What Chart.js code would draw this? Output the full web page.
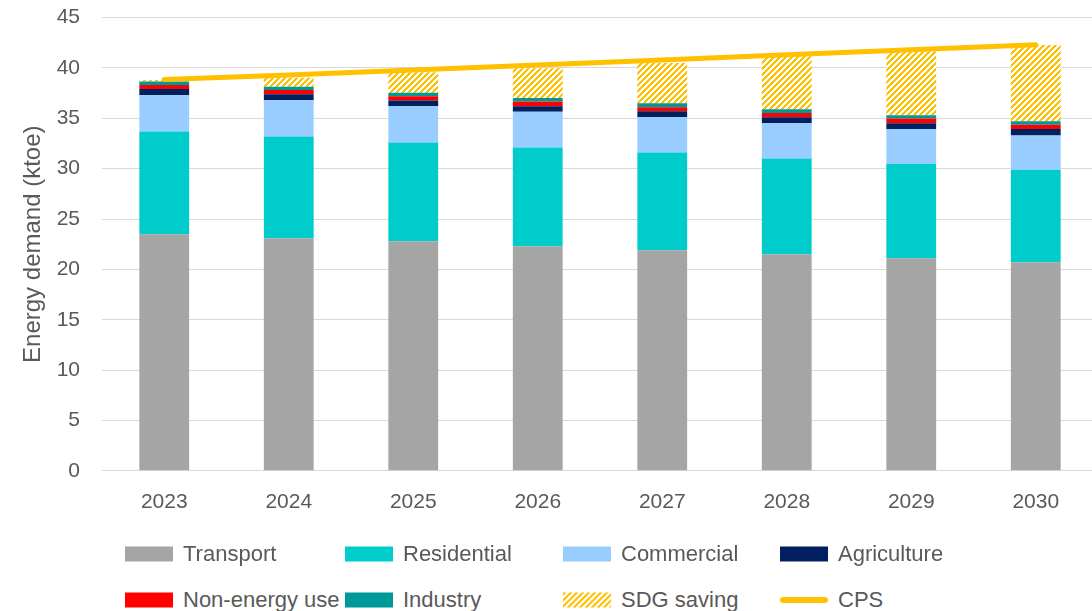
<!DOCTYPE html>
<html>
<head>
<meta charset="utf-8">
<script src="https://cdn.jsdelivr.net/npm/chart.js@4"></script>
<style>
  html, body { margin: 0; padding: 0; background: #fff; overflow: hidden; }
  #wrap { position: absolute; left: 0; top: -17px; width: 1100px; height: 560px; }
  .leg { position: absolute; font: 22px "Liberation Sans", Arial, sans-serif; color: #595959; white-space: nowrap; }
  .leg .sw { position: absolute; left: 0; width: 48px; height: 15px; top: 50%; transform: translateY(-50%); }
  .leg .txt { position: absolute; left: 58px; top: 50%; transform: translateY(-50%); }
</style>
</head>
<body>
<div id="wrap"><canvas id="chart" width="1100" height="560"></canvas></div>
<div id="legend"></div>
<script>
/* ===== data ===== */
const years = ["2023", "2024", "2025", "2026", "2027", "2028", "2029", "2030"];
const transport   = [23.5, 23.1, 22.8, 22.3, 21.9, 21.5, 21.1, 20.7];
const residential = [10.2, 10.1, 9.8, 9.8, 9.7, 9.5, 9.4, 9.2];
const commercial  = [3.6, 3.6, 3.6, 3.55, 3.5, 3.5, 3.45, 3.4];
const agriculture = [0.6, 0.6, 0.57, 0.56, 0.6, 0.6, 0.56, 0.63];
const nonEnergy   = [0.4, 0.4, 0.43, 0.47, 0.4, 0.43, 0.46, 0.43];
const industry    = [0.35, 0.33, 0.33, 0.33, 0.4, 0.37, 0.33, 0.36];
const sdgSaving   = [0.15, 0.9, 2.05, 2.97, 4.0, 5.25, 6.35, 7.56];
const cps         = [38.85, 39.3, 39.8, 40.3, 40.8, 41.3, 41.8, 42.3];
const yTicks      = [0, 5, 10, 15, 20, 25, 30, 35, 40, 45];

/* ===== hatch pattern for SDG saving (pixel "/" stripes) ===== */
function makeHatch() {
  const c = document.createElement("canvas");
  c.width = c.height = 6;
  const g = c.getContext("2d");
  g.fillStyle = "#fff";
  g.fillRect(0, 0, 6, 6);
  g.fillStyle = "#FFC000";
  for (let x = 0; x < 6; x++) {
    for (let y = 0; y < 6; y++) {
      if ((x + y) % 6 < 3) g.fillRect(x, y, 1, 1);
    }
  }
  return c;
}
const hatchCanvas = makeHatch();
const ctx = document.getElementById("chart").getContext("2d");
const hatch = ctx.createPattern(hatchCanvas, "repeat");

const FONT = "'Liberation Sans', Arial, sans-serif";
const TXT = "#595959";

const bar = (label, data, color) => ({
  type: "bar", label, data, backgroundColor: color, borderWidth: 0,
  barPercentage: 0.4, categoryPercentage: 1, stack: "demand",
});

new Chart(ctx, {
  data: {
    labels: years,
    datasets: [
      { type: "line", label: "CPS", data: cps, borderColor: "#FFC000", borderWidth: 5,
        pointRadius: 0, borderCapStyle: "round", fill: false, order: -1, stack: "cps" },
      bar("Transport", transport, "#A5A5A5"),
      bar("Residential", residential, "#00CCCC"),
      bar("Commercial", commercial, "#99CCFF"),
      bar("Agriculture", agriculture, "#002060"),
      bar("Non-energy use", nonEnergy, "#FF0000"),
      bar("Industry", industry, "#009999"),
      bar("SDG saving", sdgSaving, hatch),
    ],
  },
  options: {
    responsive: false,
    animation: false,
    layout: { padding: { top: 0, right: 2, bottom: 9, left: 0 } },
    plugins: { legend: { display: false }, tooltip: { enabled: false } },
    scales: {
      x: {
        stacked: true,
        grid: { display: false, drawTicks: false },
        border: { display: false },
        ticks: { color: TXT, font: { family: FONT, size: 21 }, padding: 19 },
      },
      y: {
        stacked: true,
        min: 0, max: 45,
        afterBuildTicks: (s) => { s.ticks = yTicks.map(v => ({ value: v })); },
        afterFit: (s) => { s.width = 102; },
        grid: { color: "#D9D9D9", lineWidth: 1, drawTicks: false },
        border: { display: false },
        ticks: { color: TXT, font: { family: FONT, size: 21 }, padding: 22 },
        title: { display: true, text: "Energy demand (ktoe)", color: TXT,
                 font: { family: FONT, size: 24 }, padding: { top: 19, bottom: 4 } },
      },
    },
  },
});

/* ===== legend (HTML grid) ===== */
const legendItems = [
  ["Transport", "#A5A5A5", 125, 554], ["Residential", "#00CCCC", 345, 554],
  ["Commercial", "#99CCFF", 563, 554], ["Agriculture", "#002060", 780, 554],
  ["Non-energy use", "#FF0000", 125, 600], ["Industry", "#009999", 345, 600],
  ["SDG saving", "hatch", 563, 600], ["CPS", "line", 780, 600],
];
const legend = document.getElementById("legend");
legendItems.forEach(([label, color, x, y]) => {
  const d = document.createElement("div");
  d.className = "leg";
  d.style.left = x + "px";
  d.style.top = (y - 15) + "px";
  d.style.height = "30px";
  d.style.width = "240px";
  let sw;
  if (color === "hatch") {
    sw = document.createElement("canvas");
    sw.width = 48; sw.height = 15;
    const g = sw.getContext("2d");
    g.fillStyle = g.createPattern(hatchCanvas, "repeat");
    g.fillRect(0, 0, 48, 15);
  } else {
    sw = document.createElement("div");
    if (color === "line") {
      sw.style.height = "6px";
      sw.style.borderRadius = "3px";
      sw.style.background = "#FFC000";
    } else {
      sw.style.background = color;
    }
  }
  sw.className = "sw";
  const t = document.createElement("span");
  t.className = "txt";
  t.textContent = label;
  d.appendChild(sw);
  d.appendChild(t);
  legend.appendChild(d);
});
</script>
</body>
</html>
